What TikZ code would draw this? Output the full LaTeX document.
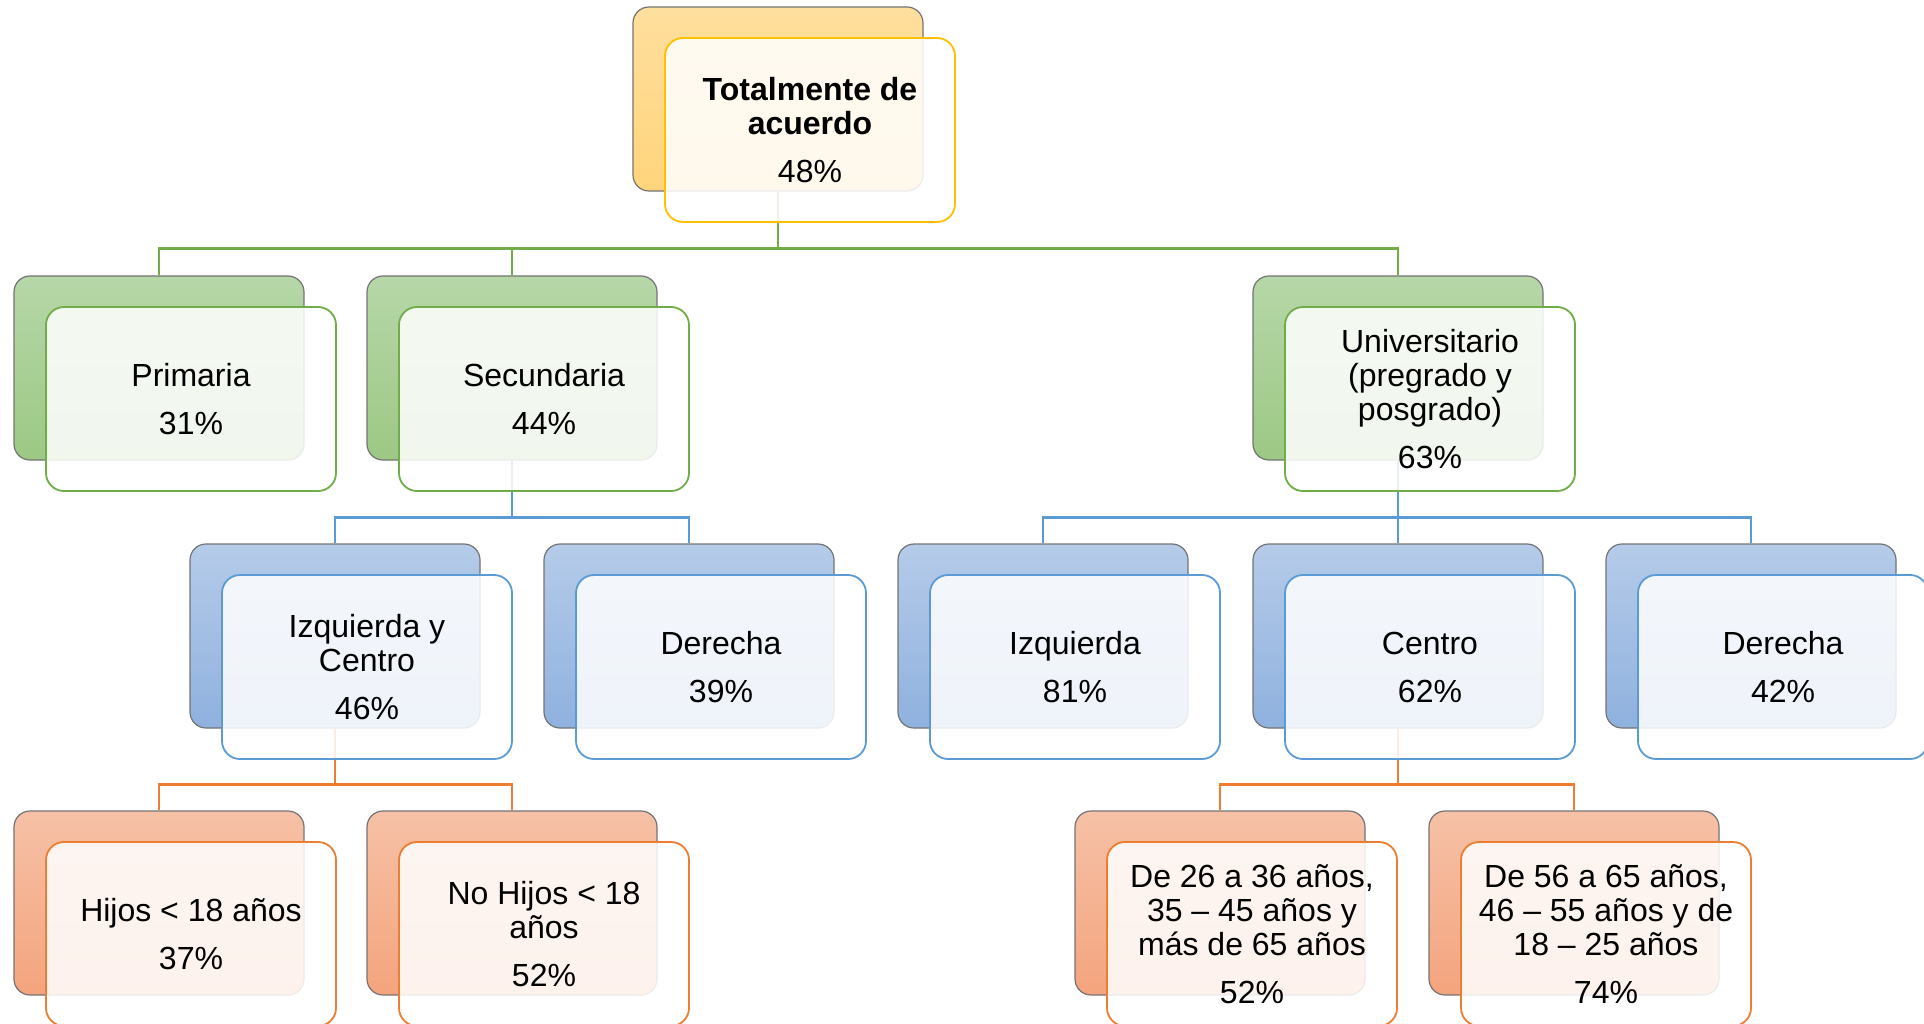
\documentclass[tikz,border=0pt]{standalone}
\usepackage{fontspec}
\setmainfont{Liberation Sans}
\usepackage{tikz}
\usetikzlibrary{shapes}
\definecolor{edgegray}{HTML}{747474}
\definecolor{goldtop}{HTML}{FFDF9E}
\definecolor{goldbot}{HTML}{FFD47C}
\definecolor{goldline}{HTML}{FFC000}
\definecolor{greentop}{HTML}{B6D7A8}
\definecolor{greenbot}{HTML}{9CC884}
\definecolor{greenline}{HTML}{70AD47}
\definecolor{bluetop}{HTML}{B5CBE9}
\definecolor{bluebot}{HTML}{8FB1DE}
\definecolor{blueline}{HTML}{5B9BD5}
\definecolor{orangetop}{HTML}{F6C1A7}
\definecolor{orangebot}{HTML}{F4A47D}
\definecolor{orangeline}{HTML}{ED7D31}
\tikzstyle{back} = [draw=edgegray, line width=1.2pt, rounded corners=16pt, minimum width=290pt, minimum height=184pt, inner sep=0pt]
\tikzstyle{goldback} = [back, top color=goldtop, bottom color=goldbot]
\tikzstyle{greenback} = [back, top color=greentop, bottom color=greenbot]
\tikzstyle{blueback} = [back, top color=bluetop, bottom color=bluebot]
\tikzstyle{orangeback} = [back, top color=orangetop, bottom color=orangebot]
\tikzstyle{front} = [line width=1.8pt, rounded corners=18pt, minimum width=290pt, minimum height=184pt, inner sep=0pt, fill=white, fill opacity=0.86, text opacity=1, align=center, font=\fontsize{32}{34}\selectfont]
\tikzstyle{gline} = [draw=greenline, line width=2.6pt]
\tikzstyle{bline} = [draw=blueline, line width=2.6pt]
\tikzstyle{oline} = [draw=orangeline, line width=2.6pt]

\begin{document}
\begin{tikzpicture}[x=1pt, y=-1pt]
		\fill [white] (0,0) rectangle (1924,1024);
		\useasboundingbox (0,0) rectangle (1924,1024);
		\node [goldback] (tot) at (778,99) {};
		\node [greenback] (pri) at (159,368) {};
		\node [greenback] (sec) at (512,368) {};
		\node [greenback] (uni) at (1398,368) {};
		\node [blueback] (izc) at (335,636) {};
		\node [blueback] (derl) at (689,636) {};
		\node [blueback] (izq) at (1043,636) {};
		\node [blueback] (cen) at (1398,636) {};
		\node [blueback] (derr) at (1751,636) {};
		\node [orangeback] (hij) at (159,903) {};
		\node [orangeback] (nhi) at (512,903) {};
		\node [orangeback] (dea) at (1220,903) {};
		\node [orangeback] (deb) at (1574,903) {};
		\path [gline] (tot.south) -- ++(0,57) -| (pri.north);
		\path [gline] (tot.south) -- ++(0,57) -| (sec.north);
		\path [gline] (tot.south) -- ++(0,57) -| (uni.north);
		\path [bline] (sec.south) -- ++(0,57) -| (izc.north);
		\path [bline] (sec.south) -- ++(0,57) -| (derl.north);
		\path [bline] (uni.south) -- ++(0,57) -| (izq.north);
		\path [bline] (uni.south) -- ++(0,57) -| (cen.north);
		\path [bline] (uni.south) -- ++(0,57) -| (derr.north);
		\path [oline] (izc.south) -- ++(0,56) -| (hij.north);
		\path [oline] (izc.south) -- ++(0,56) -| (nhi.north);
		\path [oline] (cen.south) -- ++(0,56) -| (dea.north);
		\path [oline] (cen.south) -- ++(0,56) -| (deb.north);
		\node [front, draw=goldline] (tot-t) at ([shift={(32,31)}]tot.center) {\textbf{Totalmente de}\\\textbf{acuerdo}\\[14pt]48\%};
		\node [front, draw=greenline] (pri-t) at ([shift={(32,31)}]pri.center) {Primaria\\[14pt]31\%};
		\node [front, draw=greenline] (sec-t) at ([shift={(32,31)}]sec.center) {Secundaria\\[14pt]44\%};
		\node [front, draw=greenline] (uni-t) at ([shift={(32,31)}]uni.center) {Universitario\\(pregrado y\\posgrado)\\[14pt]63\%};
		\node [front, draw=blueline] (izc-t) at ([shift={(32,31)}]izc.center) {Izquierda y\\Centro\\[14pt]46\%};
		\node [front, draw=blueline] (derl-t) at ([shift={(32,31)}]derl.center) {Derecha\\[14pt]39\%};
		\node [front, draw=blueline] (izq-t) at ([shift={(32,31)}]izq.center) {Izquierda\\[14pt]81\%};
		\node [front, draw=blueline] (cen-t) at ([shift={(32,31)}]cen.center) {Centro\\[14pt]62\%};
		\node [front, draw=blueline] (derr-t) at ([shift={(32,31)}]derr.center) {Derecha\\[14pt]42\%};
		\node [front, draw=orangeline] (hij-t) at ([shift={(32,31)}]hij.center) {Hijos < 18 años\\[14pt]37\%};
		\node [front, draw=orangeline] (nhi-t) at ([shift={(32,31)}]nhi.center) {No Hijos < 18\\años\\[14pt]52\%};
		\node [front, draw=orangeline] (dea-t) at ([shift={(32,31)}]dea.center) {De 26 a 36 años,\\35 – 45 años y\\más de 65 años\\[14pt]52\%};
		\node [front, draw=orangeline] (deb-t) at ([shift={(32,31)}]deb.center) {De 56 a 65 años,\\46 – 55 años y de\\18 – 25 años\\[14pt]74\%};
\end{tikzpicture}
\end{document}
